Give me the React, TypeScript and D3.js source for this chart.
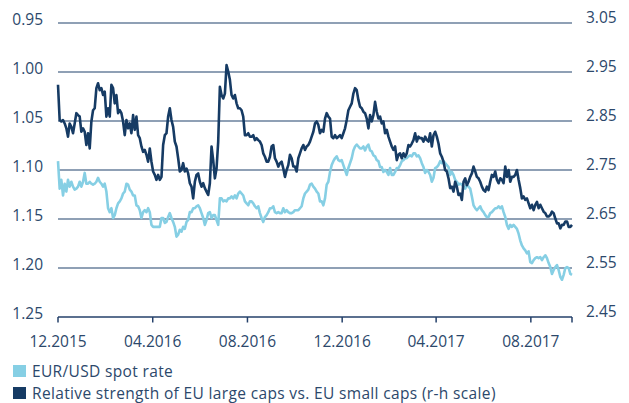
import React, { useEffect, useRef } from "react";
import * as d3 from "d3";

const W = 629;
const H = 403;

// time span of the series (first / last observation)
const startDate = new Date(2015, 11, 1);
const endDate = new Date(2017, 8, 23);

const xTickDates = [
  new Date(2015, 11, 1),
  new Date(2016, 3, 1),
  new Date(2016, 7, 1),
  new Date(2016, 11, 1),
  new Date(2017, 3, 1),
  new Date(2017, 7, 1),
];
const xTickLabels = ["12.2015", "04.2016", "08.2016", "12.2016", "04.2017", "08.2017"];

const leftTicks = [0.95, 1.0, 1.05, 1.1, 1.15, 1.2, 1.25];
const rightTicks = [3.05, 2.95, 2.85, 2.75, 2.65, 2.55, 2.45];

const legendLabels = [
  "EUR/USD spot rate",
  "Relative strength of EU large caps vs. EU small caps (r-h scale)",
];

// EUR/USD spot rate (left axis, inverted)
const eurUsd = [
  1.091, 1.119, 1.110, 1.126, 1.114, 1.122, 1.110, 1.117, 1.112, 1.117,
  1.120, 1.119, 1.117, 1.112, 1.117, 1.112, 1.103, 1.114, 1.114, 1.112,
  1.114, 1.115, 1.114, 1.112, 1.108, 1.112, 1.114, 1.117, 1.114, 1.122,
  1.139, 1.143, 1.139, 1.149, 1.146, 1.139, 1.134, 1.132, 1.129, 1.124,
  1.122, 1.114, 1.115, 1.120, 1.122, 1.126, 1.126, 1.136, 1.137, 1.141,
  1.149, 1.143, 1.141, 1.143, 1.139, 1.143, 1.156, 1.158, 1.158, 1.158,
  1.158, 1.158, 1.149, 1.149, 1.154, 1.153, 1.148, 1.144, 1.149, 1.153,
  1.158, 1.168, 1.166, 1.161, 1.163, 1.158, 1.160, 1.153, 1.151, 1.143,
  1.143, 1.139, 1.139, 1.137, 1.136, 1.139, 1.144, 1.149, 1.156, 1.151,
  1.144, 1.143, 1.149, 1.146, 1.146, 1.151, 1.156, 1.129, 1.129, 1.132,
  1.131, 1.132, 1.129, 1.129, 1.127, 1.129, 1.126, 1.129, 1.124, 1.122,
  1.124, 1.126, 1.132, 1.134, 1.136, 1.132, 1.132, 1.134, 1.137, 1.139,
  1.137, 1.144, 1.149, 1.153, 1.148, 1.146, 1.143, 1.139, 1.139, 1.137,
  1.143, 1.144, 1.143, 1.144, 1.144, 1.139, 1.143, 1.141, 1.143, 1.144,
  1.144, 1.143, 1.141, 1.141, 1.141, 1.139, 1.137, 1.129, 1.124, 1.122,
  1.120, 1.115, 1.114, 1.117, 1.119, 1.122, 1.124, 1.132,
  1.132, 1.136, 1.129, 1.115, 1.112, 1.102, 1.095, 1.091, 1.088, 1.086,
  1.090, 1.091, 1.090, 1.095, 1.100, 1.105, 1.098, 1.093, 1.088, 1.080,
  1.076, 1.074, 1.076, 1.078, 1.078, 1.076, 1.080, 1.076, 1.074, 1.080,
  1.081, 1.085, 1.086, 1.090, 1.091, 1.097, 1.097, 1.102, 1.100, 1.102,
  1.105, 1.098, 1.105, 1.105, 1.102, 1.098, 1.098, 1.095, 1.091, 1.090,
  1.088, 1.088, 1.086, 1.085, 1.086, 1.083, 1.083, 1.086, 1.085, 1.088,
  1.093, 1.097, 1.103, 1.100, 1.102, 1.105, 1.112, 1.108, 1.098, 1.097,
  1.095, 1.091, 1.093, 1.091, 1.093, 1.095, 1.097, 1.105,
  1.102, 1.105, 1.110, 1.112, 1.115, 1.114, 1.115, 1.117, 1.119, 1.115,
  1.117, 1.119, 1.127, 1.136, 1.139, 1.141, 1.139, 1.137, 1.141, 1.143,
  1.146, 1.148, 1.148, 1.144, 1.143, 1.141, 1.139, 1.139, 1.137, 1.139,
  1.137, 1.143, 1.148, 1.156, 1.160, 1.156, 1.158, 1.156, 1.158, 1.160,
  1.165, 1.172, 1.177, 1.180, 1.182, 1.185, 1.183, 1.194, 1.195, 1.192,
  1.190, 1.189, 1.190, 1.189, 1.192, 1.189, 1.187, 1.190, 1.195, 1.199,
  1.206, 1.202, 1.199, 1.197, 1.202, 1.209, 1.212, 1.207, 1.200, 1.199,
  1.200, 1.206, 1.207,
];

// relative strength large caps / small caps (right axis)
const relStrength = [
  2.924, 2.852, 2.849, 2.852, 2.845, 2.835, 2.818, 2.845, 2.838, 2.825,
  2.845, 2.866, 2.862, 2.859, 2.828, 2.835, 2.828, 2.801, 2.825, 2.794,
  2.849, 2.872, 2.876, 2.917, 2.927, 2.913, 2.917, 2.903, 2.910, 2.859,
  2.876, 2.859, 2.924, 2.917, 2.886, 2.903, 2.866, 2.872, 2.866, 2.849,
  2.821, 2.852, 2.835, 2.845, 2.825, 2.862, 2.832, 2.859, 2.821, 2.815,
  2.798, 2.787, 2.791, 2.781, 2.767, 2.794, 2.767, 2.747, 2.740, 2.730,
  2.740, 2.730, 2.736, 2.801, 2.821, 2.825, 2.859, 2.876, 2.852, 2.838,
  2.808, 2.798, 2.774, 2.747, 2.750, 2.764, 2.747, 2.753, 2.743, 2.723,
  2.716, 2.692, 2.726, 2.740, 2.743, 2.726, 2.716, 2.723, 2.713, 2.706,
  2.699, 2.723, 2.798, 2.770, 2.733, 2.753, 2.808, 2.920, 2.903, 2.896,
  2.906, 2.964, 2.951, 2.934, 2.903, 2.896, 2.903, 2.886, 2.876, 2.876,
  2.872, 2.859, 2.821, 2.821, 2.825, 2.818, 2.818, 2.821, 2.811, 2.815,
  2.811, 2.808, 2.801, 2.784, 2.777, 2.767, 2.767, 2.777, 2.798, 2.801,
  2.774, 2.767, 2.757, 2.764, 2.767, 2.753, 2.736, 2.750, 2.760, 2.781,
  2.774, 2.757, 2.757, 2.747, 2.774, 2.784, 2.794, 2.801, 2.791, 2.798,
  2.801, 2.808, 2.818, 2.828, 2.845, 2.849, 2.842, 2.825,
  2.832, 2.828, 2.855, 2.866, 2.859, 2.855, 2.818, 2.815, 2.821, 2.815,
  2.818, 2.821, 2.815, 2.825, 2.835, 2.852, 2.872, 2.879, 2.886, 2.906,
  2.917, 2.913, 2.893, 2.879, 2.876, 2.869, 2.866, 2.855, 2.835, 2.862,
  2.849, 2.862, 2.889, 2.869, 2.855, 2.859, 2.845, 2.849, 2.825, 2.832,
  2.818, 2.808, 2.798, 2.791, 2.798, 2.770, 2.781, 2.784, 2.774, 2.784,
  2.777, 2.784, 2.801, 2.798, 2.804, 2.811, 2.825, 2.808, 2.818, 2.815,
  2.815, 2.808, 2.818, 2.811, 2.808, 2.825, 2.798, 2.821, 2.828, 2.818,
  2.804, 2.784, 2.777, 2.767, 2.750, 2.747, 2.733, 2.713,
  2.716, 2.706, 2.726, 2.716, 2.699, 2.702, 2.689, 2.726, 2.733, 2.719,
  2.726, 2.736, 2.743, 2.757, 2.747, 2.736, 2.733, 2.726, 2.716, 2.709,
  2.706, 2.716, 2.709, 2.726, 2.740, 2.736, 2.747, 2.730, 2.723, 2.733,
  2.730, 2.723, 2.757, 2.736, 2.750, 2.726, 2.736, 2.736, 2.740, 2.750,
  2.730, 2.713, 2.692, 2.696, 2.689, 2.692, 2.682, 2.672, 2.679, 2.668,
  2.679, 2.685, 2.672, 2.679, 2.672, 2.665, 2.662, 2.655, 2.655, 2.658,
  2.665, 2.662, 2.651, 2.641, 2.641, 2.631, 2.638, 2.638, 2.645, 2.645,
  2.634, 2.634, 2.638,
];

const lightBlue = "#86cfe4";
const darkBlue = "#163b64";
const textColor = "#2c486b";
const gridColor = "#6a809d";
const axisColor = "#24406a";
const font = "'Open Sans', Lato, sans-serif";

export default function App() {
  const ref = useRef<SVGSVGElement>(null);

  useEffect(() => {
    document.body.style.margin = "0";
    const svg = d3.select(ref.current);
    svg.selectAll("*").remove();

    const x = d3.scaleTime().domain([startDate, endDate]).range([58, 572]);
    const yLeft = d3.scaleLinear().domain([0.95, 1.25]).range([23, 317]);
    const yRight = d3.scaleLinear().domain([3.05, 2.45]).range([23, 317]);

    // observations are evenly spaced in time between first and last date
    const dateAt = (n: number) =>
      d3.scaleLinear().domain([0, n - 1]).range([+startDate, +endDate]);
    const dL = dateAt(eurUsd.length);
    const dR = dateAt(relStrength.length);

    // gridlines
    svg.append("g")
      .selectAll("line")
      .data(leftTicks.slice(0, -1))
      .enter().append("line")
      .attr("x1", 58)
      .attr("x2", 572)
      .attr("y1", d => yLeft(d))
      .attr("y2", d => yLeft(d))
      .attr("stroke", gridColor)
      .attr("stroke-width", 1.3);

    // bottom axis
    svg.append("line")
      .attr("x1", 58).attr("x2", 572)
      .attr("y1", yLeft(1.25)).attr("y2", yLeft(1.25))
      .attr("stroke", axisColor)
      .attr("stroke-width", 1.5);
    svg.append("g")
      .selectAll("line")
      .data([...xTickDates, endDate])
      .enter().append("line")
      .attr("x1", d => x(d)).attr("x2", d => x(d))
      .attr("y1", yLeft(1.25)).attr("y2", yLeft(1.25) + 5.5)
      .attr("stroke", axisColor)
      .attr("stroke-width", 1.5);

    // tick labels
    svg.append("g")
      .selectAll("text")
      .data(xTickDates)
      .enter().append("text")
      .attr("x", d => x(d))
      .attr("y", 346.5)
      .attr("text-anchor", "middle")
      .text((d, i) => xTickLabels[i]);

    svg.append("g")
      .selectAll("text")
      .data(leftTicks)
      .enter().append("text")
      .attr("x", 43)
      .attr("y", d => yLeft(d) + 1.6)
      .attr("text-anchor", "end")
      .text(d => d3.format(".2f")(d));

    svg.append("g")
      .selectAll("text")
      .data(rightTicks)
      .enter().append("text")
      .attr("x", 586)
      .attr("y", d => yRight(d) + 0.2)
      .attr("text-anchor", "start")
      .text(d => d3.format(".2f")(d));

    // series
    const lineL = d3.line<number>()
      .x((d, i) => x(new Date(dL(i))))
      .y(d => yLeft(d));
    const lineR = d3.line<number>()
      .x((d, i) => x(new Date(dR(i))))
      .y(d => yRight(d));

    svg.append("path")
      .datum(eurUsd)
      .attr("d", lineL)
      .attr("fill", "none")
      .attr("stroke", lightBlue)
      .attr("stroke-width", 2.6)
      .attr("stroke-linejoin", "round");

    svg.append("path")
      .datum(relStrength)
      .attr("d", lineR)
      .attr("fill", "none")
      .attr("stroke", darkBlue)
      .attr("stroke-width", 2.6)
      .attr("stroke-linejoin", "round");

    svg.selectAll("text")
      .attr("font-family", font)
      .attr("font-size", 15.5)
      .attr("fill", textColor);

    // legend
    const legend = svg.append("g");
    legendLabels.forEach((label, i) => {
      legend.append("rect")
        .attr("x", 13)
        .attr("y", 365 + i * 22)
        .attr("width", 13)
        .attr("height", 12)
        .attr("fill", i === 0 ? lightBlue : darkBlue);
      legend.append("text")
        .attr("x", 32)
        .attr("y", 376.8 + i * 22)
        .attr("font-family", font)
        .attr("font-size", 15.5)
        .attr("letter-spacing", 0.35)
        .attr("fill", textColor)
        .text(label);
    });
  }, []);

  return (
    <svg
      ref={ref}
      width={W}
      height={H}
      style={{ display: "block", background: "#fff" }}
    />
  );
}
